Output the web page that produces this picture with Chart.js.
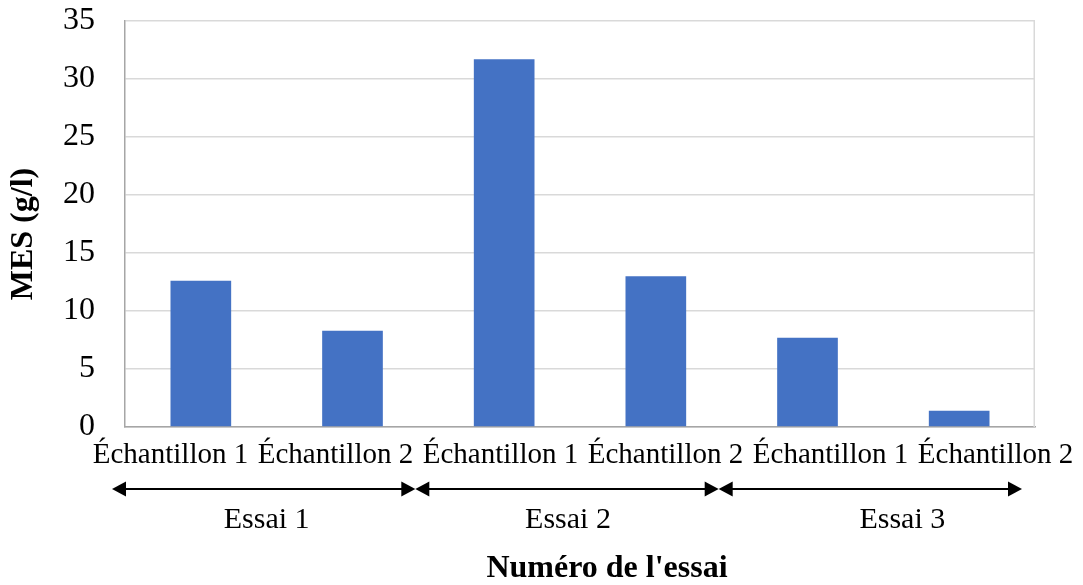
<!DOCTYPE html>
<html>
<head>
<meta charset="utf-8">
<script src="https://cdn.jsdelivr.net/npm/chart.js@4/dist/chart.umd.min.js"></script>
<style>
html,body{margin:0;padding:0;background:#fff;}
#wrap{width:1083px;height:585px;position:relative;}
</style>
</head>
<body>
<div id="wrap"><canvas id="c"></canvas></div>
<script>
const categories = ['Échantillon 1','Échantillon 2','Échantillon 1','Échantillon 2','Échantillon 1','Échantillon 2'];
const mesValues = [12.6, 8.3, 31.7, 13.0, 7.7, 1.4];
const groups = ['Essai 1','Essai 2','Essai 3'];
const groupSize = [2, 2, 2];
const yTicks = [0, 5, 10, 15, 20, 25, 30, 35];
const xTitle = "Numéro de l'essai";
const yTitle = 'MES (g/l)';

const FONT = "'Liberation Serif', 'Times New Roman', serif";

const groupPlugin = {
  id: 'groupArrows',
  afterDraw(chart, args, opts) {
    const ctx = chart.ctx;
    const x = chart.scales.x;
    const area = chart.chartArea;
    ctx.save();
    // right border of plot area
    ctx.strokeStyle = '#d9d9d9';
    ctx.lineWidth = 1.5;
    ctx.beginPath();
    ctx.moveTo(area.right - 0.75, area.top);
    ctx.lineTo(area.right - 0.75, area.bottom);
    ctx.stroke();

    const cat = x.getPixelForValue(1) - x.getPixelForValue(0);
    const half = cat / 2;
    const mid = (area.left + area.right) / 2;

    // category labels (laid out as a continuous line of text, like the source)
    ctx.fillStyle = '#000';
    ctx.font = opts.tickFont + 'px ' + FONT;
    ctx.textAlign = 'center';
    ctx.textBaseline = 'alphabetic';
    const period = cat * opts.labelSpread;
    const n = categories.length;
    categories.forEach((c, i) => {
      const cx = mid + opts.labelShiftX + (i - (n - 1) / 2) * period;
      ctx.fillText(c, cx, area.bottom + opts.tickBaseline);
    });

    // group arrows + labels
    let idx = 0;
    const yArrow = area.bottom + opts.arrowDy;
    ctx.strokeStyle = '#000';
    ctx.lineWidth = 2;
    groups.forEach((g, gi) => {
      const first = idx, last = idx + groupSize[gi] - 1;
      idx += groupSize[gi];
      const x0 = x.getPixelForValue(first) - half + opts.shift;
      const x1 = x.getPixelForValue(last) + half + opts.shift;
      const hl = 14, hh = 7.5;
      ctx.beginPath();
      ctx.moveTo(x0 + hl - 1, yArrow);
      ctx.lineTo(x1 - hl + 1, yArrow);
      ctx.stroke();
      ctx.beginPath();
      ctx.moveTo(x0, yArrow);
      ctx.lineTo(x0 + hl, yArrow - hh);
      ctx.lineTo(x0 + hl, yArrow + hh);
      ctx.closePath();
      ctx.fill();
      ctx.beginPath();
      ctx.moveTo(x1, yArrow);
      ctx.lineTo(x1 - hl, yArrow - hh);
      ctx.lineTo(x1 - hl, yArrow + hh);
      ctx.closePath();
      ctx.fill();
      ctx.font = opts.groupFont + 'px ' + FONT;
      ctx.textAlign = 'center';
      ctx.textBaseline = 'alphabetic';
      ctx.fillText(g, (x0 + x1) / 2 + opts.labelShift[gi], area.bottom + opts.groupBaseline);
    });

    // axis titles
    ctx.font = 'bold ' + opts.titleFont + 'px ' + FONT;
    ctx.textAlign = 'center';
    ctx.textBaseline = 'alphabetic';
    ctx.fillText(xTitle, mid + opts.xTitleShift, area.bottom + opts.xTitleBaseline);
    ctx.save();
    ctx.translate(opts.yTitleX, (area.top + area.bottom) / 2 + opts.yTitleShift);
    ctx.rotate(-Math.PI / 2);
    ctx.textBaseline = 'middle';
    ctx.fillText(yTitle, 0, 0);
    ctx.restore();
    ctx.restore();
  }
};

new Chart(document.getElementById('c'), {
  type: 'bar',
  data: {
    labels: categories,
    datasets: [{
      label: yTitle,
      data: mesValues,
      backgroundColor: '#4472C4',
      borderWidth: 0,
      barPercentage: 0.4,
      categoryPercentage: 1.0
    }]
  },
  options: {
    responsive: true,
    maintainAspectRatio: false,
    animation: false,
    layout: { padding: { left: 0, top: 21, right: 48, bottom: 0 } },
    plugins: {
      legend: { display: false },
      tooltip: { enabled: false },
      groupArrows: {
        tickFont: 29, tickBaseline: 36, labelSpread: 1.088, labelShiftX: 3,
        arrowDy: 62, shift: -13, groupFont: 30, groupBaseline: 101, labelShift: [3, 1, 32],
        titleFont: 32, xTitleShift: 27, xTitleBaseline: 150,
        yTitleX: 24, yTitleShift: 10
      }
    },
    scales: {
      x: {
        grid: { display: false, drawTicks: false },
        border: { display: true, color: '#a6a6a6', width: 1.5 },
        ticks: { display: false },
        afterFit(scale) { scale.height = 158; scale.paddingLeft = 0; scale.paddingRight = 0; }
      },
      y: {
        min: 0,
        max: 35,
        afterBuildTicks(scale) { scale.ticks = yTicks.map(v => ({ value: v })); },
        grid: { color: '#d9d9d9', lineWidth: 1.5, drawTicks: false },
        border: { display: true, color: '#a6a6a6', width: 1.5 },
        ticks: {
          color: '#000',
          font: { family: FONT, size: 32 },
          padding: 30
        },
        afterFit(scale) { scale.width = 125; scale.paddingTop = 0; scale.paddingBottom = 0; }
      }
    }
  },
  plugins: [groupPlugin]
});
</script>
</body>
</html>
